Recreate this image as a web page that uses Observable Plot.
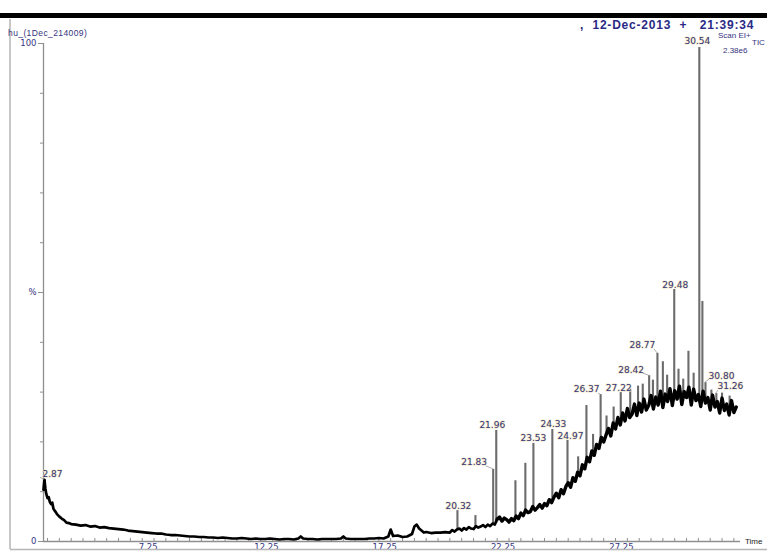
<!DOCTYPE html>
<html>
<head>
<meta charset="utf-8">
<script src="https://cdn.jsdelivr.net/npm/d3@7"></script>
<script src="https://cdn.jsdelivr.net/npm/@observablehq/plot@0.6"></script>
<style>
  html, body { margin: 0; padding: 0; background: #fff; overflow: hidden; }
  #chart svg { display: block; }
</style>
</head>
<body>
<div id="chart"></div>
<script>
// Total ion chromatogram: retention time (min) vs relative intensity (%)
const traceTime = [
  2.83, 2.87, 2.91, 2.95, 3.00, 3.05, 3.10, 3.15, 3.20, 3.25, 3.30, 3.35, 3.40, 3.50, 3.60, 3.70, 3.80, 3.90,
  4.00, 4.20, 4.40, 4.60, 4.80, 5.00, 5.20, 5.40, 5.60, 5.80, 6.00, 6.20, 6.40, 6.60, 6.80, 7.00, 7.20, 7.40,
  7.60, 7.80, 8.00, 8.20, 8.40, 8.60, 8.80, 9.00, 9.20, 9.40, 9.60, 9.80, 10.00, 10.20, 10.40, 10.60, 10.80,
  11.00, 11.20, 11.40, 11.60, 11.80, 12.00, 12.20, 12.40, 12.60, 12.80, 13.00, 13.20, 13.40, 13.60, 13.70,
  13.80, 14.00, 14.20, 14.40, 14.60, 14.80, 15.00, 15.20, 15.40, 15.50, 15.60, 15.80, 16.00, 16.20, 16.40,
  16.60, 16.80, 17.00, 17.20, 17.40, 17.50, 17.60, 17.80, 18.00, 18.20, 18.40, 18.50, 18.60, 18.70, 18.80,
  18.90, 19.00, 19.20, 19.40, 19.60, 19.80,
  20.0, 20.1, 20.2, 20.3, 20.4, 20.5, 20.6, 20.7, 20.8, 20.9,
  21.0, 21.1, 21.2, 21.3, 21.4, 21.5, 21.6, 21.7, 21.8, 21.9,
  22.0, 22.1, 22.2, 22.3, 22.4, 22.5, 22.6, 22.7, 22.8, 22.9,
  23.0, 23.1, 23.2, 23.3, 23.4, 23.5, 23.6, 23.7, 23.8, 23.9,
  24.0, 24.1, 24.2, 24.3, 24.4, 24.5, 24.6, 24.7, 24.8, 24.9,
  25.0, 25.1, 25.2, 25.3, 25.4, 25.5, 25.6, 25.7, 25.8, 25.9,
  26.0, 26.1, 26.2, 26.3, 26.4, 26.5, 26.6, 26.7, 26.8, 26.9,
  27.0, 27.1, 27.2, 27.3, 27.4, 27.5, 27.6, 27.7, 27.8, 27.9,
  28.0, 28.1, 28.2, 28.3, 28.4, 28.5, 28.6, 28.7, 28.8, 28.9,
  29.0, 29.1, 29.2, 29.3, 29.4, 29.5, 29.6, 29.7, 29.8, 29.9,
  30.0, 30.1, 30.2, 30.3, 30.4, 30.5, 30.6, 30.7, 30.8, 30.9,
  31.0, 31.1, 31.2, 31.3, 31.4, 31.5, 31.6, 31.7, 31.8, 31.9,
  32.0, 32.1
];
const traceValue = [
  10.4, 12.4, 10.6, 9.5, 8.7, 8.9, 7.9, 7.5, 7.8, 6.6, 6.2, 5.9, 5.5, 5.0, 4.6, 4.3, 3.8, 3.7,
  3.5, 3.4, 3.2, 3.3, 3.0, 3.1, 2.8, 2.9, 2.7, 2.6, 2.5, 2.4, 2.2, 2.1, 2.0, 1.9, 1.8, 1.7,
  1.6, 1.6, 1.4, 1.3, 1.3, 1.2, 1.1, 1.0, 1.0, 0.9, 0.9, 0.8, 0.8, 0.7, 0.8, 0.7, 0.6,
  0.6, 0.7, 0.6, 0.5, 0.6, 0.5, 0.5, 0.6, 0.5, 0.4, 0.5, 0.5, 0.4, 0.6, 1.0,
  0.6, 0.5, 0.5, 0.4, 0.5, 0.5, 0.5, 0.5, 0.6, 1.0, 0.6, 0.5, 0.5, 0.5, 0.5,
  0.6, 0.6, 0.7, 0.6, 1.0, 2.4, 1.1, 1.2, 0.9, 1.0, 1.5, 3.0, 3.4, 2.6, 2.2,
  1.8, 1.9, 1.7, 1.8, 1.8, 1.9,
  1.8, 2.3, 2.0, 2.4, 2.6, 2.2, 2.7, 2.4, 2.9, 2.6,
  2.5, 3.1, 2.8, 3.0, 3.3, 2.9, 3.4, 3.1, 3.6, 3.4,
  4.5, 4.9, 4.1, 4.7, 4.4, 3.9, 4.6, 4.2, 5.1, 4.6,
  5.7, 5.2, 6.3, 5.8, 6.0, 7.0, 6.3, 6.8, 7.4, 6.7,
  7.6, 7.2, 8.4, 7.8, 8.9, 9.7, 8.8, 10.4, 9.6, 11.0,
  11.8, 10.9, 12.8, 12.1, 13.9, 13.2, 15.4, 14.6, 16.9, 16.0,
  18.2, 17.3, 19.5, 18.7, 20.9, 20.0, 21.4, 22.7, 21.2, 23.8,
  22.6, 24.9, 23.4, 25.8, 24.2, 26.7, 24.9, 25.6, 27.6, 25.3,
  27.8, 26.0, 28.6, 26.4, 27.3, 29.3, 26.6, 29.0, 27.4, 30.2,
  26.9, 29.6, 28.1, 30.7, 27.3, 30.3, 28.6, 31.2, 27.5, 30.1,
  28.9, 31.0, 27.4, 30.6, 28.3, 29.5, 27.1, 30.2, 27.8, 28.9,
  26.4, 29.4, 27.0, 28.1, 25.8, 28.8, 26.3, 27.6, 25.4, 28.3,
  25.9, 27.0
];

// Resolved peaks: retention time, foot of the peak, apex (%)
const peakTime = [
  2.87, 20.32, 21.08, 21.83, 21.96, 22.77, 23.19, 23.53, 24.33, 24.97, 25.42, 25.77, 26.05, 26.37, 26.62,
  26.92, 27.22, 27.62, 27.95, 28.15, 28.42, 28.58, 28.77, 29.00, 29.18, 29.48, 29.66, 29.86, 30.08, 30.30,
  30.54, 30.67, 30.80, 31.05, 31.26, 31.50, 31.82
];
const peakBase = [
  10.5, 2.4, 2.8, 3.4, 3.6, 4.6, 6.0, 6.4, 8.0, 11.8, 13.5, 16.5, 18.0, 20.5, 21.5,
  22.8, 24.7, 25.4, 26.2, 26.8, 27.3, 27.6, 27.7, 27.9, 28.0, 28.2, 28.5, 28.6, 28.6, 28.6,
  28.4, 28.2, 28.0, 27.7, 27.4, 27.2, 26.7
];
const peakApex = [
  12.4, 6.2, 5.2, 14.5, 22.3, 12.2, 15.7, 19.7, 22.5, 20.3, 17.0, 27.3, 21.5, 29.5, 25.2,
  27.0, 29.9, 30.6, 31.2, 31.6, 33.3, 32.4, 37.8, 36.1, 33.4, 50.6, 34.6, 32.6, 38.2, 33.8,
  99.2, 48.2, 31.9, 30.4, 29.7, 29.8, 29.2
];

// Peaks that carry a retention-time label
const labelledPeaks = [2.87, 20.32, 21.83, 21.96, 23.53, 24.33, 24.97, 26.37, 27.22, 28.42, 28.77, 29.48, 30.54, 30.80, 31.26];

// Axis ticks
const xTickValues = [7.25, 12.25, 17.25, 22.25, 27.25];
const xTickLabels = ["7.25", "12.25", "17.25", "22.25", "27.25"];
const yTickValues = [0, 50, 100];
const yTickLabels = ["0", "%", "100"];

// Header text
const sampleName = "hu_(1Dec_214009)";
const acquired = ",  12-Dec-2013  +   21:39:34";
const scanMode = "Scan EI+";
const traceType = "TIC";
const fullScale = "2.38e6";
const xAxisName = "Time";

// Label placement offsets (px) so neighbouring labels do not collide
const labelNudge = {
  "2.87": [8, -6], "20.32": [1, -5], "21.83": [-19, -7], "21.96": [-4, -5],
  "23.53": [0, -5], "24.33": [1, -5], "24.97": [3, -4], "26.37": [-14, -5],
  "27.22": [-2, -4], "28.42": [-18, -6], "28.77": [-15, -8], "29.48": [1, -4],
  "30.54": [-2, -6], "30.80": [16, -7], "31.26": [14, -7]
};

const trace = traceTime.map((t, i) => ({time: t, value: traceValue[i]}));
const peaks = peakTime.map((t, i) => ({time: t, base: peakBase[i], apex: peakApex[i]}));
const labels = labelledPeaks.map(t => peaks.find(p => p.time === t));

const W = 767, H = 552;
const xDomain = [2.83, 32.28];
const minorX = d3.range(3.0, 32.1, 0.5);
const minorY = d3.range(0, 101, 10);

const labelColor = "#34347e";
const labelHalo = "#efe5bd";
const axisColor = "#8f8f8f";

const plot = Plot.plot({
  width: W,
  height: H,
  marginLeft: 43,
  marginRight: 27,
  marginTop: 43,
  marginBottom: 11,
  style: {fontFamily: "DejaVu Sans, sans-serif", background: "#fff", overflow: "hidden"},
  x: {domain: xDomain, axis: null, label: null},
  y: {domain: [0, 100], axis: null, label: null},
  marks: [
    // axes
    Plot.ruleX([xDomain[0]], {stroke: axisColor, strokeWidth: 1.3}),
    Plot.ruleY([0], {stroke: axisColor, strokeWidth: 1.3}),
    Plot.ruleX(minorX, {x: d => d, y1: 0, y2: 0.6, stroke: axisColor}),
    Plot.axisY({ticks: minorY, tickSize: 3, tickFormat: () => "", stroke: axisColor, label: null}),
    Plot.axisY({
      ticks: yTickValues, tickSize: 5, tickPadding: 2, stroke: axisColor, label: null,
      tickFormat: d => yTickLabels[yTickValues.indexOf(d)],
      fontSize: 8.5, fill: labelColor
    }),
    Plot.axisX({
      ticks: xTickValues, tickSize: 0, tickPadding: 2, anchor: "bottom", label: null,
      tickFormat: d => xTickLabels[xTickValues.indexOf(d)],
      fontSize: 8.5, fill: labelColor
    }),
    // peaks
    Plot.ruleX(peaks, {x: "time", y1: "base", y2: "apex", stroke: "#6c6c6c", strokeWidth: 2.1}),
    // chromatogram trace: quiet early part, then the noisier late part drawn heavier
    Plot.line(trace, {filter: d => d.time <= 22.0, x: "time", y: "value", stroke: "#000", strokeWidth: 2.7, strokeLinejoin: "round"}),
    Plot.line(trace, {filter: d => d.time >= 22.0, x: "time", y: "value", stroke: "#000", strokeWidth: 3.4, strokeLinejoin: "round"}),
    // retention-time labels
    ...labels.map(p => Plot.text([p], {
      x: "time", y: "apex", text: d => d.time.toFixed(2),
      dx: labelNudge[p.time.toFixed(2)][0], dy: labelNudge[p.time.toFixed(2)][1],
      fontSize: 9, fill: labelColor, stroke: labelHalo, strokeWidth: 1.2, paintOrder: "stroke",
      textAnchor: "middle", lineAnchor: "middle"
    }))
  ]
});

document.getElementById("chart").appendChild(plot);

// page furniture: header band, frame and header text
const svg = d3.select(plot);
const xs = plot.scale("x"), ys = plot.scale("y");

// leader lines from offset labels to their peaks
labels.forEach(p => {
  const [dx, dy] = labelNudge[p.time.toFixed(2)];
  if (Math.abs(dx) < 8) return;
  const px = xs.apply(p.time), py = ys.apply(p.apex);
  svg.append("line")
    .attr("x1", px + dx + (dx < 0 ? 12 : -12)).attr("y1", py + dy + 4)
    .attr("x2", px).attr("y2", py)
    .attr("stroke", "#9a9a9a").attr("stroke-width", 0.8);
});

svg.append("rect").attr("x", 0).attr("y", 13).attr("width", W).attr("height", 5).attr("fill", "#000");
svg.append("line").attr("x1", 10).attr("x2", 10).attr("y1", 19).attr("y2", 549)
  .attr("stroke", "#b5b5b5").attr("stroke-width", 1.5);
svg.append("line").attr("x1", 10).attr("x2", W).attr("y1", 549.5).attr("y2", 549.5)
  .attr("stroke", "#b5b5b5").attr("stroke-width", 1.5);

const header = svg.append("g")
  .attr("font-family", "Liberation Sans, sans-serif")
  .attr("text-anchor", "start")
  .style("white-space", "pre");
header.append("text").attr("x", 8).attr("y", 36).attr("font-size", 8.5).attr("letter-spacing", 0.4)
  .attr("fill", labelColor).text(sampleName);
header.append("text").attr("x", 580).attr("y", 29).attr("font-size", 12).attr("font-weight", "bold")
  .attr("fill", "#2a2a86").attr("letter-spacing", 0.8).text(acquired);
header.append("text").attr("x", 718).attr("y", 38).attr("font-size", 8).attr("fill", labelColor).text(scanMode);
header.append("text").attr("x", 752).attr("y", 45).attr("font-size", 8).attr("fill", labelColor).text(traceType);
header.append("text").attr("x", 723).attr("y", 53).attr("font-size", 8).attr("fill", labelColor).text(fullScale);
header.append("text").attr("x", 745).attr("y", 544).attr("font-size", 8).attr("fill", "#222").text(xAxisName);
</script>
</body>
</html>
